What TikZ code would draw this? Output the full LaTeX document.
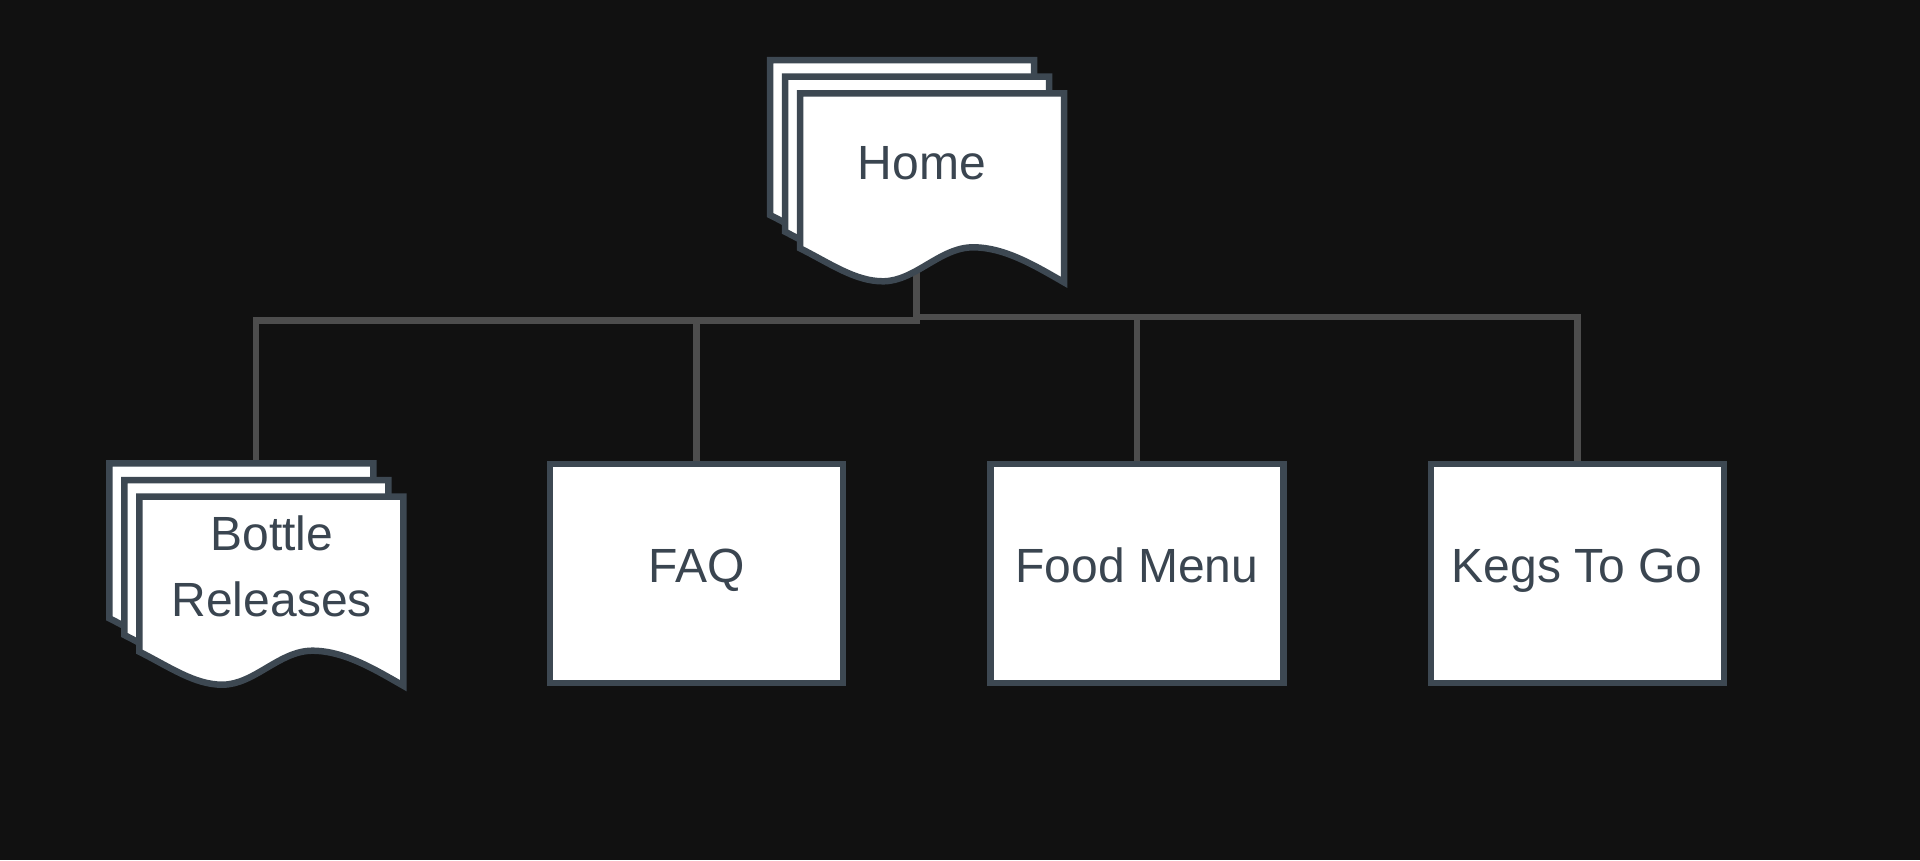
\documentclass[tikz,border=0pt]{standalone}
\usepackage{fontspec}
\setmainfont{Liberation Sans}
\definecolor{bgc}{HTML}{111111}
\definecolor{edgec}{HTML}{3D4852}
\definecolor{txtc}{HTML}{3A4550}
\definecolor{linec}{HTML}{4D4D4D}
\pgfdeclarelayer{back}
\pgfdeclarelayer{conn}
\pgfsetlayers{back,conn,main}
\tikzset{
  pagebox/.style={draw=edgec, line width=6.5pt, fill=white, minimum width=293pt,
    minimum height=219pt, inner sep=0pt, text=txtc, font=\fontsize{48}{66}\selectfont,
    text height=34pt, text depth=17pt},
  sheet/.style={draw=edgec, line width=6.5pt, fill=white, line join=miter},
  lbl/.style={text=txtc, font=\fontsize{48}{66}\selectfont, inner sep=0pt, anchor=base, align=center},
  connector/.style={draw=linec, line width=6.5pt}
}
\newcommand\mdocsheet[2]{%
  \begin{scope}[shift={(#1,#2)}]
    \draw[sheet] (0,0) -- (264,0) -- (264,189)
      .. controls (236,173) and (205,154) .. (173,154)
      .. controls (140,154) and (115,188) .. (83,188)
      .. controls (55,188) and (30,170) .. (0,155) -- cycle;
  \end{scope}}
\begin{document}
\begin{tikzpicture}[x=1pt,y=-1pt]
\useasboundingbox (0,0) rectangle (1920,860);
\begin{pgfonlayer}{back}
  \fill[bgc] (0,0) rectangle (1920,860);
\end{pgfonlayer}
% Home (multi-document)
\mdocsheet{770}{60}
\mdocsheet{785}{76.7}
\mdocsheet{800}{93.3}
\node[lbl] (home) at (922,179.3) {Home};
\coordinate (homeb) at (916.5,250);
% Bottle Releases (multi-document)
\mdocsheet{109.3}{463.3}
\mdocsheet{124.3}{480}
\mdocsheet{139.3}{496.7}
\node[lbl] (bottle) at (271.7,616.7) {Bottle\\Releases};
\coordinate (bottlet) at (256,463.3);
% Pages
\node[pagebox] (faq) at (696.5,573.5) {FAQ};
\node[pagebox] (food) at (1137,573.5) {Food Menu};
\node[pagebox] (kegs) at (1577.3,573.5) {Kegs To Go};
% Connectors
\begin{pgfonlayer}{conn}
  \draw[connector] (homeb) -- ++(0,70.7) -| (bottlet);
  \draw[connector] (homeb) -- ++(0,70.7) -| (faq.north);
  \draw[connector] (homeb) -- ++(0,67) -| (food.north);
  \draw[connector] (homeb) -- ++(0,67) -| (kegs.north);
\end{pgfonlayer}
\end{tikzpicture}
\end{document}
